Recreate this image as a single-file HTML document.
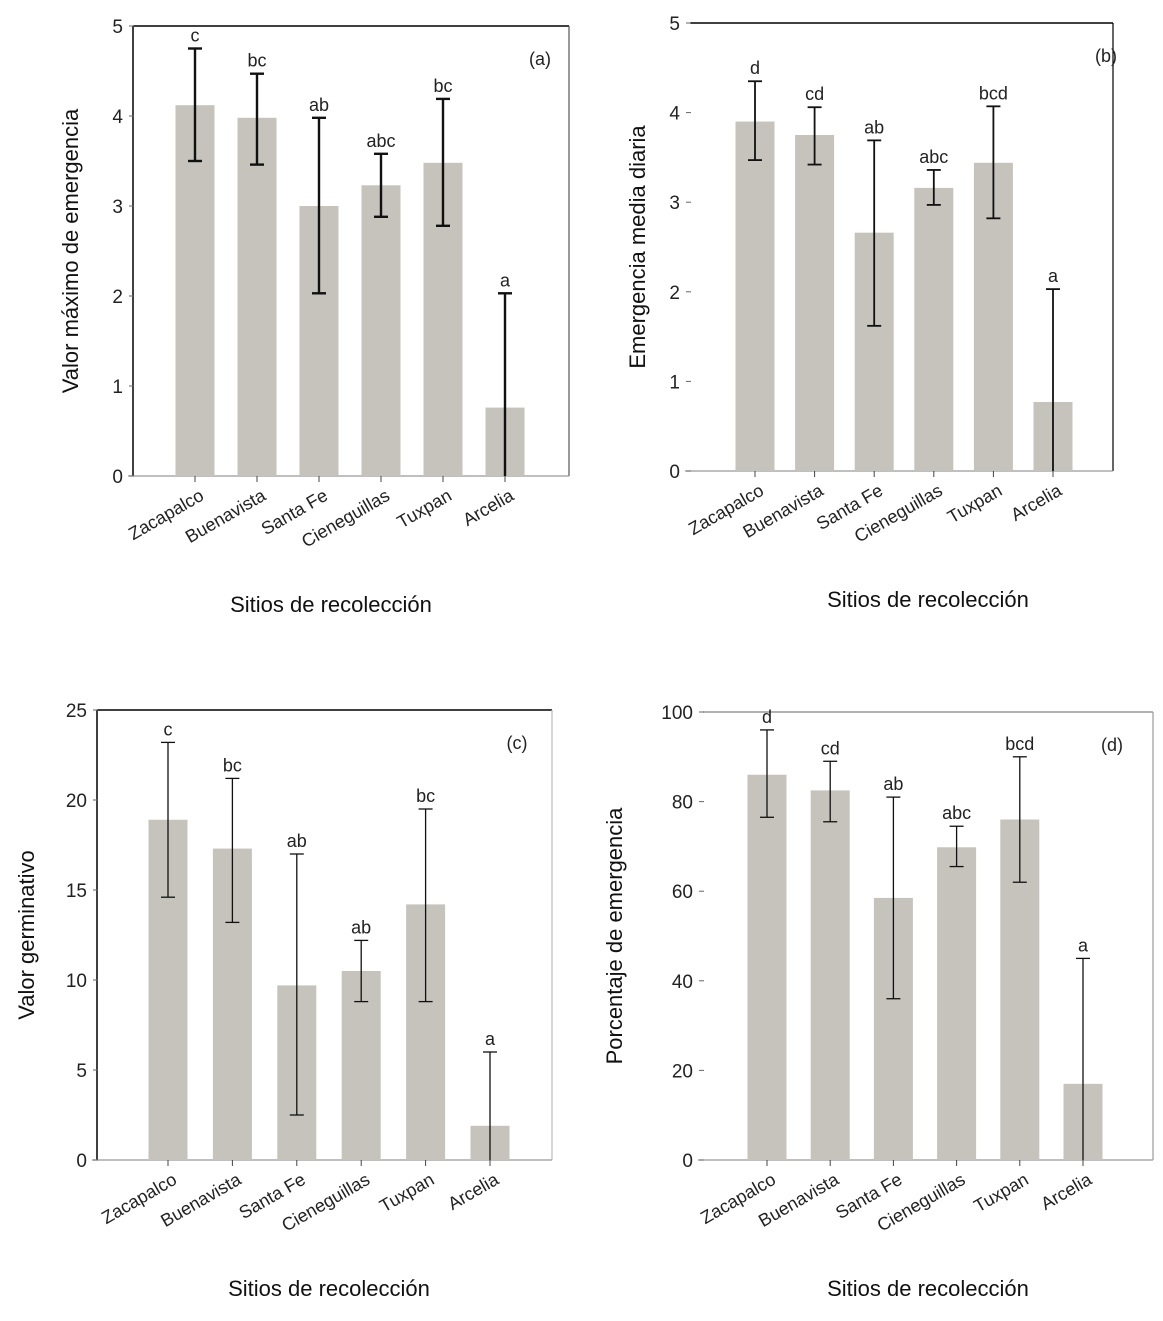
<!DOCTYPE html>
<html><head><meta charset="utf-8"><style>
html,body{margin:0;padding:0;background:#fff}
svg{display:block;font-family:"Liberation Sans",sans-serif}
</style></head><body>
<svg id="fig" width="1163" height="1321" viewBox="0 0 1163 1321" xmlns="http://www.w3.org/2000/svg"></svg>
<script>
const categories = ["Zacapalco","Buenavista","Santa Fe","Cieneguillas","Tuxpan","Arcelia"];
const valuesA = [4.12,3.98,3.0,3.23,3.48,0.76];
const upperA = [4.75,4.47,3.98,3.58,4.19,2.03];
const lowerA = [3.5,3.46,2.03,2.88,2.78,0];
const lettersA = ["c","bc","ab","abc","bc","a"];
const ticksA = [0,1,2,3,4,5];
const valuesB = [3.9,3.75,2.66,3.16,3.44,0.77];
const upperB = [4.35,4.06,3.69,3.36,4.07,2.03];
const lowerB = [3.47,3.42,1.62,2.97,2.82,0];
const lettersB = ["d","cd","ab","abc","bcd","a"];
const ticksB = [0,1,2,3,4,5];
const valuesC = [18.9,17.3,9.7,10.5,14.2,1.9];
const upperC = [23.2,21.2,17.0,12.2,19.5,6.0];
const lowerC = [14.6,13.2,2.5,8.8,8.8,0];
const lettersC = ["c","bc","ab","ab","bc","a"];
const ticksC = [0,5,10,15,20,25];
const valuesD = [86,82.5,58.5,69.8,76,17];
const upperD = [96,89,81,74.5,90,45];
const lowerD = [76.5,75.5,36,65.5,62,0];
const lettersD = ["d","cd","ab","abc","bcd","a"];
const ticksD = [0,20,40,60,80,100];

const svg = document.getElementById('fig');
const NS = 'http://www.w3.org/2000/svg';
function mk(tag, attrs, parent){const e=document.createElementNS(NS,tag);for(const k in attrs)e.setAttribute(k,attrs[k]);(parent||svg).appendChild(e);return e;}

function panel(p){
  const g = mk('g',{});
  
  
  const ymax = p.ticks[p.ticks.length-1];
  const y = v => p.y0 - (v/ymax)*(p.y0-p.yTop);
  const x = i => p.x0 + i*p.step;
  if(p.left){const l=mk('line',{x1:p.axL,y1:p.yTop,x2:p.axL,y2:p.y0,stroke:'#000','stroke-width':1.5},g);}
  const t=mk('line',{x1:p.axL,y1:p.yTop,x2:p.axR,y2:p.yTop,stroke:p.topCol,'stroke-width':1.5},g);
  
  const r=mk('line',{x1:p.axR,y1:p.yTop,x2:p.axR,y2:p.y0,stroke:p.rightCol,'stroke-width':1.2},g);
  
  const b=mk('line',{x1:p.axL-5,y1:p.y0,x2:p.axR,y2:p.y0,stroke:'#999','stroke-width':1.2},g);
  
  p.ticks.forEach(tv=>{
    const tk=mk('line',{x1:p.axL-4,y1:y(tv),x2:p.axL+1,y2:y(tv),stroke:'#666','stroke-width':1},g);
    
    const tl=mk('text',{x:p.axL-10,y:y(tv)+7,'text-anchor':'end','font-size':19,fill:'#222'},g);
    tl.textContent=tv;
    
  });
  const yt=mk('text',{x:p.ytX,y:(p.y0+p.yTop)/2,'text-anchor':'middle','font-size':22,fill:'#111',transform:`rotate(-90 ${p.ytX} ${(p.y0+p.yTop)/2})`},g);
  yt.textContent=p.ytitle;
  
  const pl=mk('text',{x:p.labX,y:p.yTop+39,'text-anchor':'middle','font-size':18,fill:'#222'},g);
  pl.textContent='('+p.id+')';
  
  categories.forEach((c,i)=>{
    const cx=x(i), bw=39;
    const bar=mk('rect',{x:cx-bw/2,y:y(p.vals[i]),width:bw,height:p.y0-y(p.vals[i]),fill:'#c6c3bd'},g);
    
    
    const ew=p.errW;
    const e1=mk('line',{x1:cx,y1:y(p.up[i]),x2:cx,y2:y(p.lo[i]),stroke:'#111','stroke-width':ew},g);
    
    const c1=mk('line',{x1:cx-7,y1:y(p.up[i]),x2:cx+7,y2:y(p.up[i]),stroke:'#111','stroke-width':ew},g);
    
    if(p.lo[i]>0){const c2=mk('line',{x1:cx-7,y1:y(p.lo[i]),x2:cx+7,y2:y(p.lo[i]),stroke:'#111','stroke-width':ew},g);
      }
    const lt=mk('text',{x:cx,y:y(p.up[i])-7,'text-anchor':'middle','font-size':18,fill:'#222'},g);
    lt.textContent=p.letters[i];
    
    const xt=mk('line',{x1:cx,y1:p.y0,x2:cx,y2:p.y0+6,stroke:'#444','stroke-width':1},g);
    
    const xl=mk('text',{x:cx+10,y:p.y0+23,'text-anchor':'end','font-size':18,fill:'#222',transform:`rotate(-30 ${cx+10} ${p.y0+23})`},g);
    xl.textContent=c;
    
  });
  const xt=mk('text',{x:p.xtX,y:p.y0+136,'text-anchor':'middle','font-size':22,fill:'#111'},g);
  xt.textContent='Sitios de recolección';
  
}
panel({id:'a',vals:valuesA,up:upperA,lo:lowerA,letters:lettersA,ticks:ticksA,x0:195,step:62,y0:476,yTop:26,axL:133,axR:569,left:true,topCol:'#000',rightCol:'#555',errW:2.4,ytitle:'Valor máximo de emergencia',ytX:78,labX:540,xtX:331});
panel({id:'b',vals:valuesB,up:upperB,lo:lowerB,letters:lettersB,ticks:ticksB,x0:755,step:59.6,y0:471,yTop:23,axL:690,axR:1113,left:false,topCol:'#000',rightCol:'#000',errW:1.8,ytitle:'Emergencia media diaria',ytX:645,labX:1106,xtX:928});
panel({id:'c',vals:valuesC,up:upperC,lo:lowerC,letters:lettersC,ticks:ticksC,x0:168,step:64.4,y0:1160,yTop:710,axL:97,axR:552,left:true,topCol:'#000',rightCol:'#bbb',errW:1.3,ytitle:'Valor germinativo',ytX:34,labX:517,xtX:329});
panel({id:'d',vals:valuesD,up:upperD,lo:lowerD,letters:lettersD,ticks:ticksD,x0:767,step:63.2,y0:1160,yTop:712,axL:703,axR:1153,left:false,topCol:'#999',rightCol:'#999',errW:1.3,ytitle:'Porcentaje de emergencia',ytX:622,labX:1112,xtX:928});
</script>
</body></html>
